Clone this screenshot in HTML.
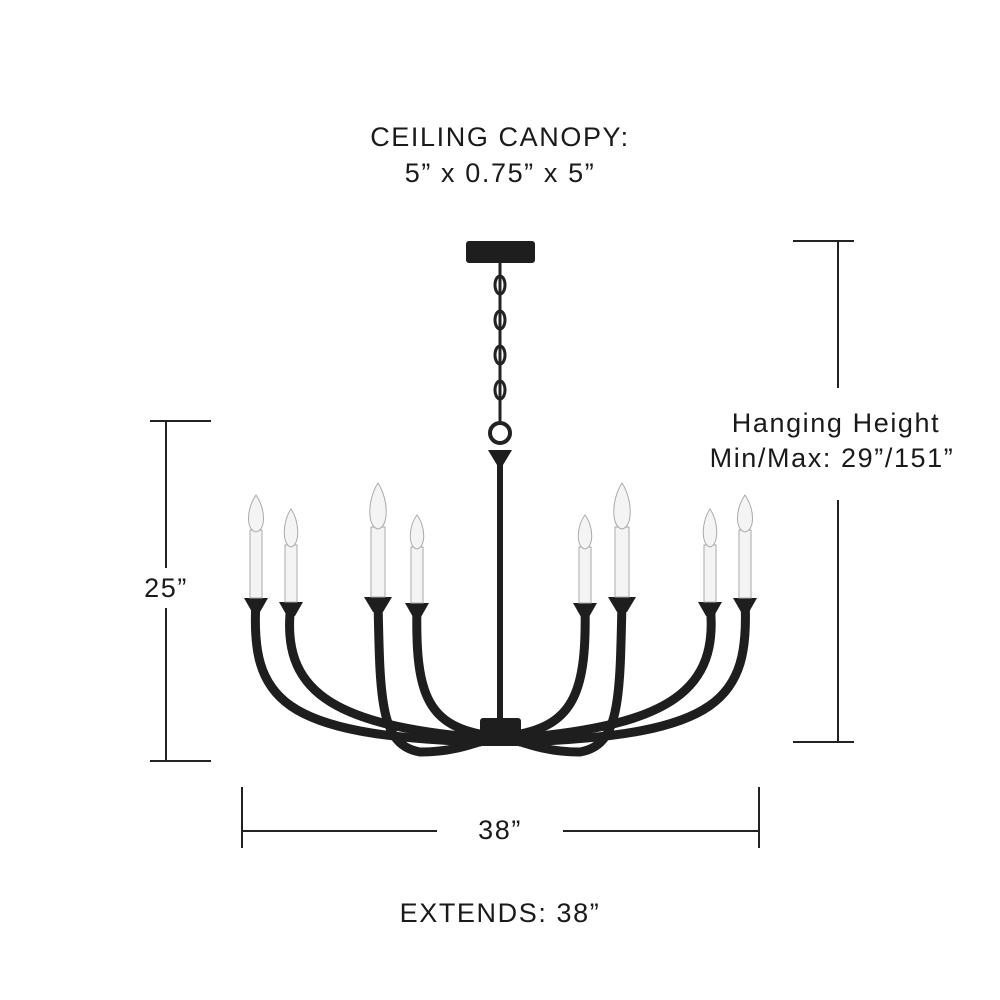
<!DOCTYPE html>
<html><head><meta charset="utf-8"><style>
html,body{margin:0;padding:0;background:#fff}
body{width:1000px;height:1000px;position:relative;overflow:hidden;font-family:"Liberation Sans",sans-serif;color:#1a1a1a}
.t{position:absolute;font-size:27px;letter-spacing:1.6px;white-space:nowrap;transform:translateX(-50%)}
</style></head><body>
<div class="t" style="left:500px;top:122px">CEILING CANOPY:</div>
<div class="t" style="left:500px;top:158px">5” x 0.75” x 5”</div>
<div class="t" style="left:836px;top:408px">Hanging Height</div>
<div class="t" style="left:832px;top:443px">Min/Max: 29”/151”</div>
<div class="t" style="left:166px;top:573px">25”</div>
<div class="t" style="left:500px;top:815px">38”</div>
<div class="t" style="left:500px;top:898px">EXTENDS: 38”</div>
<svg width="1000" height="1000" style="position:absolute;left:0;top:0">
<g stroke="#222" stroke-width="2" fill="none">
<line x1="150" y1="421" x2="211" y2="421"/><line x1="150" y1="761" x2="211" y2="761"/>
<line x1="166" y1="421" x2="166" y2="568"/><line x1="166" y1="608" x2="166" y2="761"/>
<line x1="793" y1="241" x2="854" y2="241"/><line x1="793" y1="742" x2="854" y2="742"/>
<line x1="838" y1="241" x2="838" y2="388"/><line x1="838" y1="500" x2="838" y2="742"/>
<line x1="242" y1="787" x2="242" y2="848"/><line x1="759" y1="787" x2="759" y2="848"/>
<line x1="242" y1="831" x2="437" y2="831"/><line x1="563" y1="831" x2="759" y2="831"/>
</g>
<rect x="466" y="241" width="69" height="22" rx="3" fill="#1e1e1e"/>
<g stroke="#222" stroke-width="3" fill="none">
<line x1="500" y1="263" x2="500" y2="422"/>
<ellipse cx="500" cy="285" rx="5" ry="9"/><ellipse cx="500" cy="320" rx="5" ry="9"/><ellipse cx="500" cy="355" rx="5" ry="9"/><ellipse cx="500" cy="390" rx="5" ry="9"/>
<circle cx="500" cy="433" r="10" stroke-width="4"/>
</g>
<path d="M488 450 L512 450 L503 465 L503 720 L497 720 L497 465 Z" fill="#1e1e1e"/>
<g stroke="#1e1e1e" stroke-width="9" fill="none" stroke-linecap="round">
<path d="M256 600 C250 700 280 735 480 742"/>
<path d="M291 604 C280 690 330 725 480 738"/>
<path d="M378 600 C380 700 380 745 420 752 C450 752 470 745 485 740"/>
<path d="M417 604 C415 690 425 725 485 735"/>
<path d="M585 604 C587 690 575 725 515 735"/>
<path d="M622 600 C620 700 620 745 580 752 C550 752 530 745 515 740"/>
<path d="M710 604 C720 690 670 725 520 738"/>
<path d="M745 600 C750 700 720 735 520 742"/>
</g>
<rect x="480" y="718" width="41" height="28" rx="3" fill="#1e1e1e"/>
<g fill="#1e1e1e">
<path d="M244 598 L268 598 L260 612 L252 612Z"/><path d="M279 602 L303 602 L295 616 L287 616Z"/>
<path d="M364 597 L392 597 L383 612 L373 612Z"/><path d="M405 603 L429 603 L421 617 L413 617Z"/>
<path d="M573 603 L597 603 L589 617 L581 617Z"/><path d="M608 597 L636 597 L627 612 L617 612Z"/>
<path d="M698 602 L722 602 L714 616 L706 616Z"/><path d="M733 598 L757 598 L749 612 L741 612Z"/>
</g>
<g fill="#f4f4f4" stroke="#aaa" stroke-width="1">
<rect x="250" y="530" width="12" height="68"/><rect x="285" y="545" width="12" height="57"/>
<rect x="371" y="527" width="14" height="70"/><rect x="411" y="547" width="12" height="56"/>
<rect x="579" y="547" width="12" height="56"/><rect x="615" y="527" width="14" height="70"/>
<rect x="704" y="545" width="12" height="57"/><rect x="739" y="530" width="12" height="68"/>
<path d="M256 495 C246 510 246 530 256 532 C266 530 266 510 256 495Z"/>
<path d="M291 509 C282 522 282 545 291 547 C300 545 300 522 291 509Z"/>
<path d="M378 483 C367 500 367 527 378 529 C389 527 389 500 378 483Z"/>
<path d="M417 515 C408 527 408 547 417 549 C426 547 426 527 417 515Z"/>
<path d="M585 515 C576 527 576 547 585 549 C594 547 594 527 585 515Z"/>
<path d="M622 483 C611 500 611 527 622 529 C633 527 633 500 622 483Z"/>
<path d="M710 509 C701 522 701 545 710 547 C719 545 719 522 710 509Z"/>
<path d="M745 495 C735 510 735 530 745 532 C755 530 755 510 745 495Z"/>
</g>
</svg>
</body></html>
